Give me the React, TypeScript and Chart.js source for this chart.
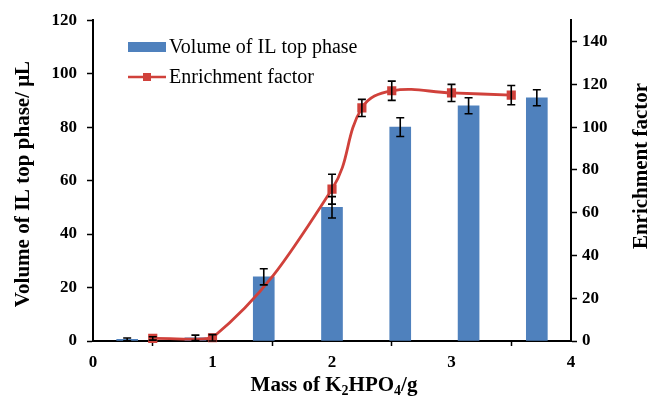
import React, { useEffect, useRef } from "react";
import { Chart, registerables } from "chart.js";

Chart.register(...registerables);

const barX = [0.286, 0.857, 1.429, 2.0, 2.571, 3.143, 3.714];
const volumeValues = [0.6, 1.2, 24, 50, 80, 88, 91];
const volumeErrors = [0.5, 1, 3, 4, 3.5, 3, 3];

const lineX = [0.5, 1.0, 2.0, 2.25, 2.5, 3.0, 3.5];
const enrichmentValues = [1.2, 1.5, 71, 109, 117, 116, 115];
const enrichmentErrors = [0.8, 1.5, 7, 4, 4.5, 4, 4.5];

const xTicks = [0, 1, 2, 3, 4];
const leftTicks = [0, 20, 40, 60, 80, 100, 120];
const rightTicks = [0, 20, 40, 60, 80, 100, 120, 140];

const BAR_COLOR = "#4F81BD";
const LINE_COLOR = "#D0413B";
const FONT = "'Liberation Serif', 'Times New Roman', serif";

const errorBarPlugin = {
  id: "errorBars",
  afterDatasetsDraw(chart: any) {
    const ctx = chart.ctx;
    chart.data.datasets.forEach((ds: any, di: number) => {
      const errs = ds.errors as number[] | undefined;
      if (!errs) return;
      const meta = chart.getDatasetMeta(di);
      const yScale = chart.scales[ds.yAxisID];
      meta.data.forEach((el: any, i: number) => {
        const v = ds.data[i].y;
        const e = errs[i];
        const x = el.x;
        const y1 = yScale.getPixelForValue(v + e);
        const y2 = yScale.getPixelForValue(v - e);
        ctx.save();
        ctx.strokeStyle = "#000";
        ctx.lineWidth = 1.6;
        ctx.beginPath();
        ctx.moveTo(x, y1);
        ctx.lineTo(x, y2);
        ctx.moveTo(x - 4, y1);
        ctx.lineTo(x + 4, y1);
        ctx.moveTo(x - 4, y2);
        ctx.lineTo(x + 4, y2);
        ctx.stroke();
        ctx.restore();
      });
    });
  },
};

const decorPlugin = {
  id: "decor",
  afterDraw(chart: any) {
    const ctx = chart.ctx;
    ctx.save();
    // Legend
    ctx.fillStyle = BAR_COLOR;
    ctx.fillRect(128, 42, 38, 10);
    ctx.strokeStyle = LINE_COLOR;
    ctx.lineWidth = 2.5;
    ctx.beginPath();
    ctx.moveTo(128, 77);
    ctx.lineTo(166, 77);
    ctx.stroke();
    ctx.fillStyle = LINE_COLOR;
    ctx.fillRect(143, 73, 8, 8);
    ctx.fillStyle = "#000";
    ctx.font = `20px ${FONT}`;
    ctx.textBaseline = "middle";
    ctx.textAlign = "left";
    ctx.fillText("Volume of IL top phase", 169, 48);
    ctx.fillText("Enrichment factor", 169, 78);

    // Axis titles
    ctx.font = `bold 21px ${FONT}`;
    ctx.textAlign = "center";
    ctx.save();
    ctx.translate(24, 184);
    ctx.rotate(-Math.PI / 2);
    ctx.fillText("Volume of IL top phase/ \u03BCL", 0, 0);
    ctx.restore();
    ctx.save();
    ctx.translate(642, 166);
    ctx.rotate(-Math.PI / 2);
    ctx.fillText("Enrichment factor", 0, 0);
    ctx.restore();

    // X title with subscripts
    const parts: [string, boolean][] = [
      ["Mass of K", false],
      ["2", true],
      ["HPO", false],
      ["4", true],
      ["/g", false],
    ];
    const big = `bold 21px ${FONT}`;
    const small = `bold 14px ${FONT}`;
    let total = 0;
    parts.forEach(([t, sub]) => {
      ctx.font = sub ? small : big;
      total += ctx.measureText(t).width;
    });
    let x = 334 - total / 2;
    const baseY = 391;
    ctx.textAlign = "left";
    ctx.textBaseline = "alphabetic";
    parts.forEach(([t, sub]) => {
      ctx.font = sub ? small : big;
      ctx.fillText(t, x, sub ? baseY + 4 : baseY);
      x += ctx.measureText(t).width;
    });
    ctx.restore();
  },
};

export default function App() {
  const ref = useRef<HTMLCanvasElement | null>(null);
  useEffect(() => {
    if (!ref.current) return;
    const tickFont = { family: FONT, size: 17, weight: "bold" as const };
    const chart = new Chart(ref.current, {
      type: "bar",
      data: {
        datasets: [
          {
            type: "line",
            label: "Enrichment factor",
            data: lineX.map((x, i) => ({ x, y: enrichmentValues[i] })),
            errors: enrichmentErrors,
            yAxisID: "y1",
            xAxisID: "x",
            borderColor: LINE_COLOR,
            backgroundColor: LINE_COLOR,
            borderWidth: 2.8,
            pointStyle: "rect",
            pointRadius: 4.5,
            pointBackgroundColor: LINE_COLOR,
            pointBorderColor: LINE_COLOR,
            tension: 0.4,
            clip: 10,
            order: 0,
          } as any,
          {
            type: "bar",
            label: "Volume of IL top phase",
            data: barX.map((x, i) => ({ x, y: volumeValues[i] })),
            errors: volumeErrors,
            yAxisID: "y",
            xAxisID: "x",
            backgroundColor: BAR_COLOR,
            barThickness: 21,
            order: 1,
          } as any,
        ],
      },
      options: {
        animation: false,
        responsive: false,
        maintainAspectRatio: false,
        layout: { padding: { top: 20, left: 0, right: 0, bottom: 0 } },
        plugins: {
          legend: { display: false },
          tooltip: { enabled: false },
        },
        scales: {
          x: {
            type: "linear",
            position: "bottom",
            min: 0,
            max: 4,
            offset: false,
            afterBuildTicks: (s: any) => {
              s.ticks = xTicks.map((v) => ({ value: v }));
            },
            afterFit: (s: any) => {
              s.height = 59;
            },
            ticks: { color: "#000", font: tickFont, padding: 6, autoSkip: false },
            grid: {
              display: true,
              drawOnChartArea: false,
              drawTicks: true,
              tickLength: 5,
              tickColor: "#000",
              tickWidth: 1.5,
            },
            border: { display: true, color: "#000", width: 2 },
          },
          y: {
            type: "linear",
            position: "left",
            min: 0,
            max: 120,
            afterBuildTicks: (s: any) => {
              s.ticks = leftTicks.map((v) => ({ value: v }));
            },
            afterFit: (s: any) => {
              s.width = 93;
            },
            ticks: { color: "#000", font: tickFont, padding: 10 },
            grid: {
              display: true,
              drawOnChartArea: false,
              drawTicks: true,
              tickLength: 6,
              tickColor: "#000",
              tickWidth: 1.5,
            },
            border: { display: true, color: "#000", width: 2 },
          },
          y1: {
            type: "linear",
            position: "right",
            min: 0,
            max: 150,
            afterBuildTicks: (s: any) => {
              s.ticks = rightTicks.map((v) => ({ value: v }));
            },
            afterFit: (s: any) => {
              s.width = 81;
            },
            ticks: { color: "#000", font: tickFont, padding: 5 },
            grid: {
              display: true,
              drawOnChartArea: false,
              drawTicks: true,
              tickLength: 6,
              tickColor: "#000",
              tickWidth: 1.5,
            },
            border: { display: true, color: "#000", width: 2 },
          },
        },
      } as any,
      plugins: [errorBarPlugin, decorPlugin],
    });
    return () => chart.destroy();
  }, []);
  return (
    <div style={{ position: "fixed", left: 0, top: 0, width: 652, height: 400, background: "#fff" }}>
      <canvas ref={ref} width={652} height={400} style={{ width: 652, height: 400 }} />
    </div>
  );
}
